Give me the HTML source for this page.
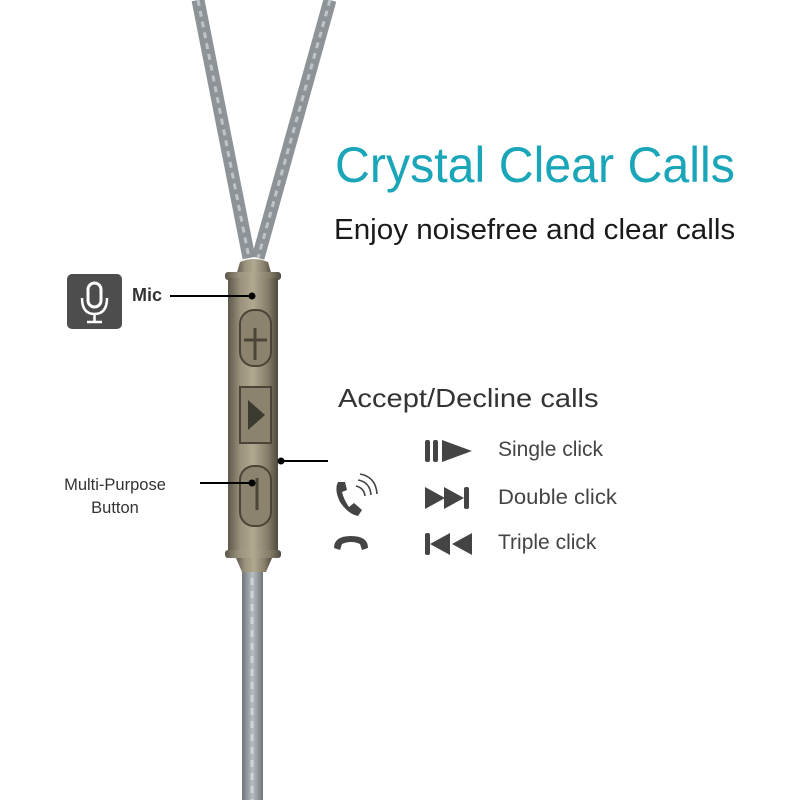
<!DOCTYPE html>
<html><head><meta charset="utf-8"><style>
body{margin:0;width:800px;height:800px;background:#fff;overflow:hidden;position:relative;font-family:"Liberation Sans","DejaVu Sans",sans-serif}
.t{position:absolute;white-space:nowrap;transform-origin:0 0}
</style></head><body>
<svg width="800" height="800" style="position:absolute;left:0;top:0">
<defs>
<linearGradient id="g" x1="0" x2="1">
<stop offset="0" stop-color="#5e584a"/><stop offset="0.25" stop-color="#9a927c"/><stop offset="0.5" stop-color="#b0a88f"/><stop offset="0.8" stop-color="#857d68"/><stop offset="1" stop-color="#4f4a3e"/></linearGradient>
<linearGradient id="c" x1="0" x2="1"><stop offset="0" stop-color="#6f757a"/><stop offset="0.5" stop-color="#b8bdc0"/><stop offset="1" stop-color="#6f757a"/></linearGradient>
</defs>
<line x1="198" y1="0" x2="249" y2="258" stroke="#8d9397" stroke-width="13"/>
<line x1="198" y1="0" x2="249" y2="258" stroke="#bfc4c7" stroke-width="3" stroke-dasharray="6 5"/>
<line x1="330" y1="0" x2="258" y2="258" stroke="#8d9397" stroke-width="13"/>
<line x1="330" y1="0" x2="258" y2="258" stroke="#bfc4c7" stroke-width="3" stroke-dasharray="6 5"/>
<rect x="242" y="560" width="21" height="240" fill="url(#c)"/>
<line x1="252" y1="565" x2="252" y2="800" stroke="#d0d4d6" stroke-width="3" stroke-dasharray="7 6"/>
<path d="M236 276 L240 262 Q253 256 268 262 L272 276 Z" fill="url(#g)"/>
<rect x="225" y="272" width="56" height="8" rx="3" fill="url(#g)"/>
<rect x="228" y="278" width="50" height="275" fill="url(#g)"/>
<rect x="225" y="550" width="56" height="8" rx="3" fill="url(#g)"/>
<path d="M236 558 L272 558 L266 572 L242 572 Z" fill="url(#g)"/>
<rect x="240" y="310" width="31" height="56" rx="14" fill="#8b836d" stroke="#4a4538" stroke-width="2"/>
<path d="M244 340 H267 M255 328 V360" stroke="#4a4538" stroke-width="3"/>
<rect x="240" y="387" width="31" height="56" fill="#8b836d" stroke="#4a4538" stroke-width="2"/>
<path d="M248 400 L265 415 L248 430 Z" fill="#3d3a30"/>
<rect x="240" y="466" width="31" height="60" rx="14" fill="#8b836d" stroke="#4a4538" stroke-width="2"/>
<line x1="257" y1="478" x2="257" y2="510" stroke="#4a4538" stroke-width="3"/>
<line x1="170" y1="296" x2="252" y2="296" stroke="#000" stroke-width="2"/><circle cx="252" cy="296" r="3.5" fill="#000"/>
<line x1="200" y1="483" x2="252" y2="483" stroke="#000" stroke-width="2"/><circle cx="252" cy="483" r="3.5" fill="#000"/>
<line x1="281" y1="461" x2="328" y2="461" stroke="#000" stroke-width="2"/><circle cx="281" cy="461" r="3.5" fill="#000"/>
<rect x="67" y="274" width="55" height="55" rx="5" fill="#4d4d4d"/>
<rect x="88" y="283" width="13" height="24" rx="6.5" fill="none" stroke="#fff" stroke-width="3"/>
<path d="M82 298 Q82 314 94.5 314 Q107 314 107 298 M94.5 314 V322 M87 322 H102" fill="none" stroke="#fff" stroke-width="2.5"/>
<g fill="#444">
<rect x="425" y="440" width="5" height="22" rx="2"/><rect x="433" y="440" width="5" height="22" rx="2"/><path d="M442 440 L472 451 L442 462 Z"/>
<path d="M425 487 L445 498 L425 509 Z"/><path d="M444 487 L464 498 L444 509 Z"/><rect x="464" y="487" width="5" height="22" rx="2"/>
<rect x="425" y="533" width="5" height="22" rx="2"/><path d="M450 533 L430 544 L450 555 Z"/><path d="M472 533 L452 544 L472 555 Z"/>
<path d="M338 482 Q334 490 340 502 Q348 514 358 516 L362 510 L354 503 L349 507 Q344 500 342 492 L347 490 L345 482 Z"/>
<path d="M334 548 Q334 536 351 536 Q368 536 368 548 L362 550 L360 544 Q351 540 342 544 L340 550 Z"/>
</g>
<path d="M356 486 Q364 488 365 496 M358 480 Q370 482 371 495 M360 474 Q376 477 377 494" fill="none" stroke="#444" stroke-width="1.6"/>
</svg>
<div class="t" style="left:335px;top:136px;font-size:50px;color:#1aa6b8;transform:scaleX(0.966)">Crystal Clear Calls</div>
<div class="t" style="left:334px;top:214px;font-size:29px;color:#1a1a1a;transform:scaleX(1.02)">Enjoy noisefree and clear calls</div>
<div class="t" style="left:132px;top:285px;font-size:18px;font-weight:bold;color:#333">Mic</div>
<div class="t" style="left:50px;top:474px;width:130px;text-align:center;font-size:16.5px;line-height:23px;color:#333">Multi-Purpose<br>Button</div>
<div class="t" style="left:338px;top:383px;font-size:26px;color:#333;transform:scaleX(1.12)">Accept/Decline calls</div>
<div class="t" style="left:498px;top:438px;font-size:21px;color:#444">Single click</div>
<div class="t" style="left:498px;top:486px;font-size:21px;color:#444;transform:scaleX(1.05)">Double click</div>
<div class="t" style="left:498px;top:531px;font-size:21px;color:#444">Triple click</div>
</body></html>
